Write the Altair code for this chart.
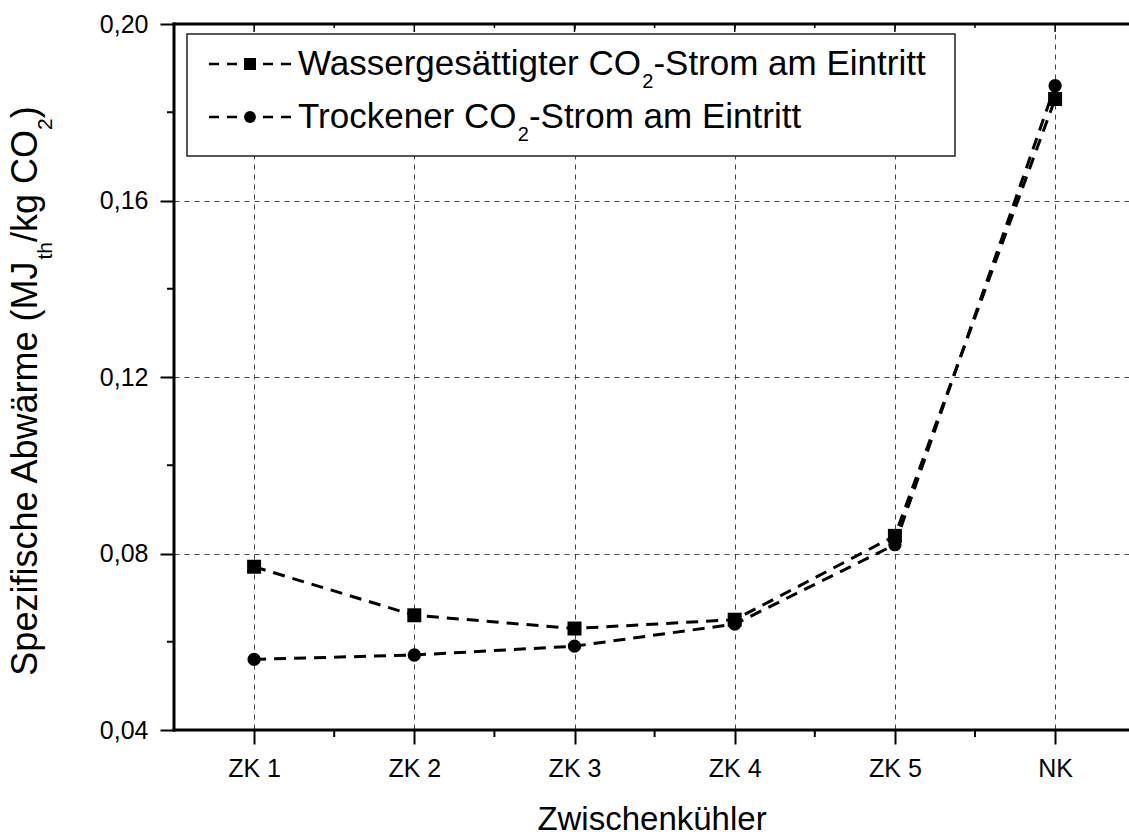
import json

import altair as alt
import pandas as pd

# ---- values -------------------------------------------------------------
categories = ["ZK 1", "ZK 2", "ZK 3", "ZK 4", "ZK 5", "NK"]
wet_values = [0.077, 0.066, 0.063, 0.065, 0.084, 0.183]
dry_values = [0.056, 0.057, 0.059, 0.064, 0.082, 0.186]
series_keys = ["wet", "dry"]
series_shapes = ["square", "circle"]
legend_pieces = [
    ("Wassergesättigter CO", "2", "-Strom am Eintritt"),
    ("Trockener CO", "2", "-Strom am Eintritt"),
]
y_tick_values = [0.04, 0.08, 0.12, 0.16, 0.20]
y_minor_values = [0.06, 0.10, 0.14, 0.18]
x_title = "Zwischenkühler"
y_title_pieces = [
    ("Spezifische Abwärme (MJ", False),
    ("th", True),
    ("/kg CO", False),
    ("2", True),
    (")", False),
]

# ---- layout -------------------------------------------------------------
FONT = "Liberation Sans"
W, H = 955, 706
STEP = 160.2
x_domain = [0.5, 0.5 + W / STEP]

# Arial / Liberation Sans advance widths (1/1000 em)
ADV = {
    "W": 944, "a": 556, "s": 500, "e": 556, "r": 333, "g": 556, "ä": 556,
    "t": 278, "i": 222, " ": 278, "C": 722, "O": 778, "-": 333, "S": 667,
    "o": 556, "m": 833, "E": 667, "n": 556, "T": 611, "c": 500, "k": 500,
    "2": 556, "p": 556, "z": 500, "f": 278, "h": 556, "A": 667, "b": 556,
    "w": 722, "(": 333, ")": 333, "M": 833, "J": 500, "/": 278,
}


def text_width(s, size):
    return sum(ADV.get(c, 556) for c in s) * size / 1000.0


ONE_ROW = pd.DataFrame({"k": [0]})


def px_text(t, x, y, fs, angle=0):
    return alt.Chart(ONE_ROW).mark_text(
        text=t, align="left", baseline="alphabetic", angle=angle,
        font=FONT, fontSize=fs, color="black",
    ).encode(x=alt.value(x), y=alt.value(y))


def px_rule(x0, y0, x1, y1, **style):
    return alt.Chart(ONE_ROW).mark_rule(**style).encode(
        x=alt.value(x0), x2=alt.value(x1), y=alt.value(y0), y2=alt.value(y1)
    )


rows = []
for key, vals in zip(series_keys, [wet_values, dry_values]):
    for i, (cat, v) in enumerate(zip(categories, vals)):
        rows.append({"series": key, "pos": i + 1, "cat": cat, "value": v})
df = pd.DataFrame(rows)

x_scale = alt.Scale(domain=x_domain, nice=False, zero=False)
y_scale = alt.Scale(domain=[0.04, 0.20], nice=False, zero=False)

label_expr = json.dumps(categories) + "[round(datum.value) - 1]"

x_axis = alt.Axis(
    values=list(range(1, len(categories) + 1)), labelExpr=label_expr,
    domain=False, tickSize=14, tickWidth=2, tickColor="black",
    labelFont=FONT, labelFontSize=25, labelColor="black", labelPadding=12,
    labelOverlap=False, labelFlush=False,
    grid=True, gridDash=[5, 5], gridColor="#444", gridWidth=1,
    title=x_title, titleFont=FONT, titleFontSize=33, titleFontWeight="normal",
    titleColor="black", titleBaseline="alphabetic", titleY=99,
)
y_axis = alt.Axis(
    values=y_tick_values,
    labelExpr="replace(format(datum.value, '.2f'), '.', ',')",
    domain=False, tickSize=14, tickWidth=2, tickColor="black",
    labelFont=FONT, labelFontSize=25, labelColor="black", labelPadding=12,
    labelOverlap=False, labelFlush=False,
    grid=True, gridDash=[5, 5], gridColor="#444", gridWidth=1,
    title=None,
)

X = alt.X("pos:Q", scale=x_scale, axis=x_axis)
Y = alt.Y("value:Q", scale=y_scale, axis=y_axis)

lines = alt.Chart(df).mark_line(
    strokeDash=[12, 8], strokeWidth=3, color="black"
).encode(x=X, y=Y, detail="series:N")

points = alt.Chart(df).mark_point(filled=True, opacity=1, color="black").encode(
    x=X, y=Y,
    shape=alt.Shape("series:N", scale=alt.Scale(domain=series_keys, range=series_shapes), legend=None),
    size=alt.Size("series:N", scale=alt.Scale(domain=series_keys, range=[196, 177]), legend=None),
)

# minor and mirrored ticks, placed through the shared scales
x_minor = pd.DataFrame({"pos": [i + 1.5 for i in range(len(categories) - 1)]})
x_major = pd.DataFrame({"pos": list(range(1, len(categories) + 1))})
y_minor = pd.DataFrame({"value": y_minor_values})

bottom_minor = alt.Chart(x_minor).mark_rule(color="black", strokeWidth=2).encode(
    x=X, y=alt.value(H), y2=alt.value(H + 7)
)
top_minor = alt.Chart(x_minor).mark_rule(color="black", strokeWidth=1.5).encode(
    x=X, y=alt.value(0), y2=alt.value(4)
)
top_major = alt.Chart(x_major).mark_rule(color="black", strokeWidth=1.5).encode(
    x=X, y=alt.value(0), y2=alt.value(8)
)
left_minor = alt.Chart(y_minor).mark_rule(color="black", strokeWidth=2).encode(
    y=Y, x=alt.value(-7), x2=alt.value(0)
)

# frame lines: bottom, left, top
frame_style = dict(color="black", strokeWidth=3, strokeCap="square")
frame = [
    px_rule(0, H, W, H, **frame_style),
    px_rule(0, 0, 0, H, **frame_style),
    px_rule(0, 0, W, 0, **frame_style),
]

# legend box
LX0, LX1, LY0, LY1 = 13, 781, 10, 132
legend_box = alt.Chart(ONE_ROW).mark_rect(
    fill="white", stroke="#222", strokeWidth=1.5
).encode(x=alt.value(LX0), x2=alt.value(LX1), y=alt.value(LY0), y2=alt.value(LY1))

row_y = [40, 93]
baseline_y = [51, 104]
legend_layers = [legend_box]
for shape, size, ry in zip(series_shapes, [144, 140], row_y):
    legend_layers.append(
        px_rule(35, ry, 117, ry, color="black", strokeWidth=2.5, strokeDash=[10, 8])
    )
    legend_layers.append(
        alt.Chart(ONE_ROW).mark_point(
            shape=shape, size=size, filled=True, opacity=1, color="black"
        ).encode(x=alt.value(76), y=alt.value(ry))
    )

LEG_FS, LEG_SUB_FS, LEG_SUB_SHIFT = 35, 20, 13
for (a, sub, b), by in zip(legend_pieces, baseline_y):
    x = 124
    legend_layers.append(px_text(a, x, by, LEG_FS))
    x += text_width(a, LEG_FS)
    legend_layers.append(px_text(sub, x, by + LEG_SUB_SHIFT, LEG_SUB_FS))
    x += text_width(sub, LEG_SUB_FS)
    legend_layers.append(px_text(b, x, by, LEG_FS))

# rotated y title with subscripts, running upwards
YT_FS, YT_SUB_FS, YT_SUB_SHIFT = 36, 21, 15
YT_BASE_X = 37 - 174
total = sum(text_width(s, YT_SUB_FS if sub else YT_FS) for s, sub in y_title_pieces)
y_cursor = (391 - 24) + total / 2.0
y_title_layers = []
for s, sub in y_title_pieces:
    fs = YT_SUB_FS if sub else YT_FS
    y_title_layers.append(
        px_text(s, YT_BASE_X + (YT_SUB_SHIFT if sub else 0), y_cursor, fs, angle=270)
    )
    y_cursor -= text_width(s, fs)

chart = alt.layer(
    lines, points, bottom_minor, top_minor, top_major, left_minor,
    *frame, *legend_layers, *y_title_layers,
).properties(
    width=W, height=H,
    autosize=alt.AutoSizeParams(type="none"),
    padding={"left": 174, "top": 24, "right": 0, "bottom": 105},
    background="white",
).configure_view(stroke=None).configure(font=FONT)

chart.save("out.html", embed_options={"renderer": "svg", "actions": False})
